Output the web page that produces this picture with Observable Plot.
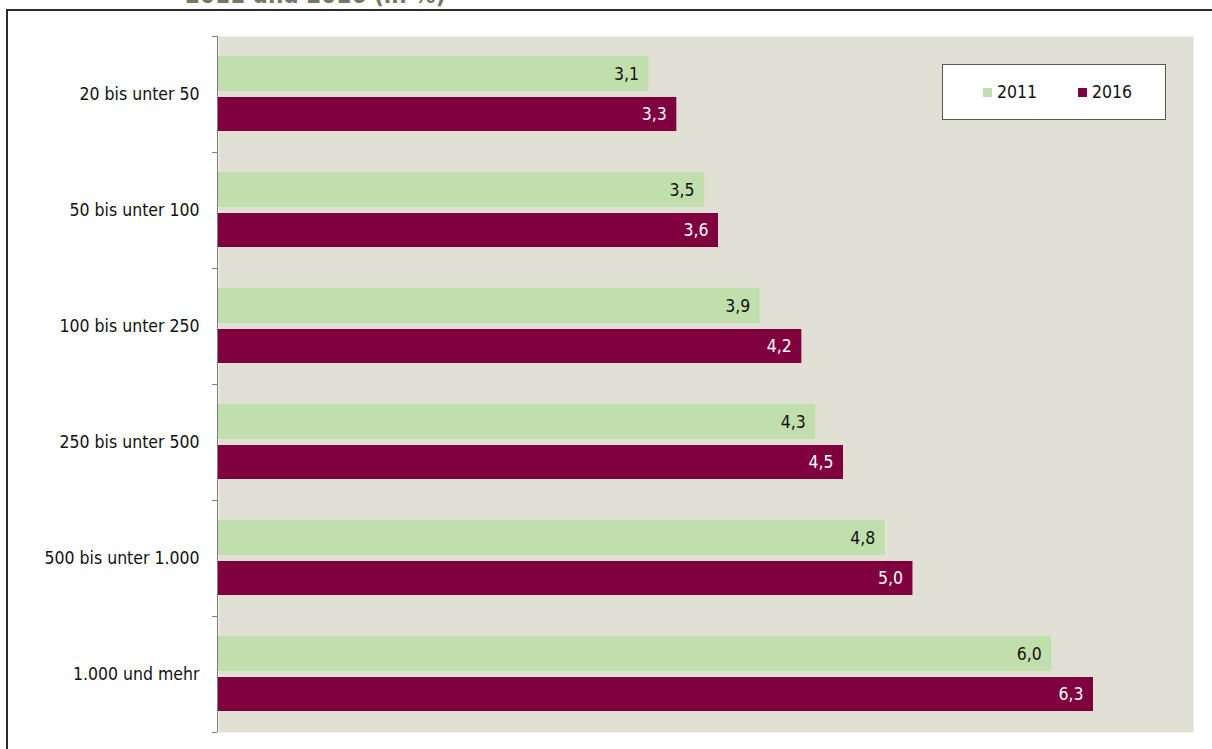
<!DOCTYPE html>
<html><head><meta charset="utf-8">
<script src="https://cdn.jsdelivr.net/npm/d3@7"></script>
<script src="https://cdn.jsdelivr.net/npm/@observablehq/plot@0.6"></script>
<style>
body{margin:0;background:#fff;font-family:"DejaVu Sans Condensed","DejaVu Sans",sans-serif;overflow:hidden}
#wrap{position:relative;width:1212px;height:749px;overflow:hidden}
#title{position:absolute;left:185px;top:-19px;font-size:24px;font-weight:bold;color:#6f7c63;white-space:nowrap;font-family:"DejaVu Sans Condensed","DejaVu Sans",sans-serif}
#frame{position:absolute;left:6px;top:9px;width:1220px;height:760px;border:2px solid #2b2b2b;box-sizing:border-box}
#chart{position:absolute;left:0;top:0}
#legend{position:absolute;left:942px;top:64px;width:224px;height:56px;background:#fff;border:1px solid #555;box-sizing:border-box;font-size:17.5px;color:#111}
.it{position:absolute;top:0;height:54px;display:flex;align-items:center}
.sw{width:9px;height:9px;margin-right:5px}
</style></head>
<body><div id="wrap">
<div id="title">2011 und 2016 (in %)</div>
<div id="frame"></div>
<div id="chart"></div>
<div id="legend"></div>
</div>
<script>
const categories = ["20 bis unter 50","50 bis unter 100","100 bis unter 250","250 bis unter 500","500 bis unter 1.000","1.000 und mehr"];
const years = ["2011","2016"];
const values2011 = [3.1,3.5,3.9,4.3,4.8,6.0];
const values2016 = [3.3,3.6,4.2,4.5,5.0,6.3];
const colors = {"2011":"#c1dfac","2016":"#80003f"};
const labelColors = {"2011":"#111","2016":"#fff"};

const d11 = categories.map((c,i)=>({cat:c, year:"2011", v:values2011[i]}));
const d16 = categories.map((c,i)=>({cat:c, year:"2016", v:values2016[i]}));
const fmt = v => v.toFixed(1).replace(".", ",");
const font = "DejaVu Sans Condensed, DejaVu Sans, sans-serif";

const chart = Plot.plot({
  width:1212, height:749,
  marginLeft:218, marginRight:19, marginTop:36, marginBottom:17,
  style:{fontFamily:font, fontSize:"17.5px", background:"transparent", color:"#111"},
  x:{domain:[0,7.02], axis:null},
  y:{domain:categories, padding:0, axis:null, label:null},
  marks:[
    Plot.frame({fill:"#e0e1d4", stroke:null}),
    Plot.barX(d11,{x:"v", y:"cat", fill:colors["2011"], insetTop:20, insetBottom:61}),
    Plot.barX(d16,{x:"v", y:"cat", fill:colors["2016"], insetTop:61, insetBottom:21}),
    Plot.text(d11,{x:"v", y:"cat", text:d=>fmt(d.v), dy:-20.5, dx:-10, textAnchor:"end", fill:labelColors["2011"], fontSize:17.5}),
    Plot.text(d16,{x:"v", y:"cat", text:d=>fmt(d.v), dy:20, dx:-10, textAnchor:"end", fill:labelColors["2016"], fontSize:17.5}),
    Plot.ruleX([0],{stroke:"#808080", dx:-1, strokeWidth:1}),
    Plot.axisY({tickSize:0, tickPadding:19, fontSize:17.5, fill:"#111", label:null}),
    Plot.axisY({text:null, tickSize:5, dy:-58, dx:-1, stroke:"#808080", label:null}),
    Plot.axisY({ticks:[categories[categories.length-1]], text:null, tickSize:5, dy:58, dx:-1, stroke:"#808080", label:null})
  ]
});
document.getElementById("chart").appendChild(chart);

const lg = document.getElementById("legend");
const pos = {"2011":40, "2016":135};
years.forEach(y=>{
  const it = document.createElement("div");
  it.className="it"; it.style.left=pos[y]+"px";
  it.innerHTML = `<span class="sw" style="background:${colors[y]}"></span><span>${y}</span>`;
  lg.appendChild(it);
});
</script>
</body></html>
